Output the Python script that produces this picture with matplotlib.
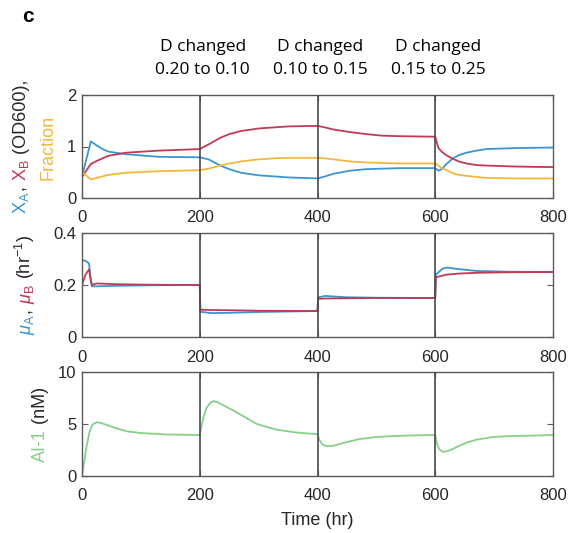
import matplotlib
matplotlib.use("Agg")
import matplotlib.pyplot as plt

# ---- data ----
t_top = [0, 15, 25, 35, 45, 75, 130, 200, 215, 235, 250, 270, 300, 325, 350, 400,
         413, 427, 455, 483, 511, 540, 600, 603, 606, 612, 619, 630, 640, 653, 670,
         687, 738, 800]
xA = [0.42, 1.10, 1.02, 0.95, 0.90, 0.85, 0.80, 0.79, 0.75, 0.63, 0.56, 0.49, 0.44,
      0.42, 0.40, 0.38, 0.42, 0.47, 0.53, 0.56, 0.57, 0.58, 0.58, 0.55, 0.53, 0.57,
      0.66, 0.77, 0.83, 0.88, 0.92, 0.95, 0.97, 0.98]
xB = [0.41, 0.66, 0.72, 0.77, 0.82, 0.88, 0.92, 0.95, 1.04, 1.17, 1.24, 1.30, 1.35,
      1.37, 1.39, 1.40, 1.37, 1.33, 1.28, 1.24, 1.21, 1.20, 1.19, 1.06, 0.96, 0.89,
      0.83, 0.76, 0.71, 0.67, 0.64, 0.63, 0.61, 0.60]
frac = [0.51, 0.36, 0.39, 0.42, 0.45, 0.49, 0.52, 0.54, 0.57, 0.63, 0.67, 0.71, 0.75,
        0.77, 0.78, 0.78, 0.77, 0.75, 0.71, 0.69, 0.68, 0.67, 0.67, 0.65, 0.62, 0.58,
        0.54, 0.48, 0.45, 0.43, 0.41, 0.39, 0.38, 0.38]

t_mid = [0, 6, 12, 15, 17, 25, 60, 120, 200, 201, 220, 250, 300, 400, 401, 413, 447,
         500, 600, 601, 612, 620, 640, 671, 728, 800]
muA = [0.296, 0.293, 0.283, 0.21, 0.195, 0.195, 0.197, 0.199, 0.2, 0.097, 0.092, 0.093,
       0.096, 0.1, 0.152, 0.158, 0.153, 0.151, 0.15, 0.24, 0.262, 0.267, 0.261, 0.254,
       0.251, 0.25]
muB = [0.2, 0.24, 0.26, 0.22, 0.2, 0.206, 0.203, 0.201, 0.2, 0.105, 0.104, 0.103,
       0.101, 0.1, 0.147, 0.148, 0.149, 0.15, 0.15, 0.23, 0.236, 0.24, 0.244, 0.247,
       0.249, 0.25]

t_bot = [0, 4, 8, 13, 18, 25, 32, 40, 50, 60, 76, 100, 140, 200, 203, 207, 212, 218,
         223, 230, 240, 257, 280, 297, 315, 331, 359, 380, 400, 403, 408, 413, 418,
         428, 445, 472, 500, 529, 560, 600, 603, 607, 613, 620, 630, 641, 655, 670,
         698, 730, 755, 800]
ai1 = [0.0, 1.5, 2.9, 4.3, 4.95, 5.17, 5.1, 4.95, 4.75, 4.55, 4.3, 4.13, 4.0, 3.94,
       4.8, 5.8, 6.6, 7.05, 7.2, 7.1, 6.8, 6.3, 5.55, 5.0, 4.7, 4.45, 4.22, 4.1, 4.03,
       3.5, 3.05, 2.9, 2.86, 2.92, 3.2, 3.56, 3.75, 3.84, 3.9, 3.94, 3.1, 2.55, 2.32,
       2.38, 2.6, 2.92, 3.25, 3.49, 3.75, 3.85, 3.87, 3.94]

changes = [200, 400, 600]
change_txt = ["0.20 to 0.10", "0.10 to 0.15", "0.15 to 0.25"]

blue = "#3a95d3"
red = "#c03a55"
yellow = "#f4b73c"
green = "#88cf88"
dark = "#262626"
axcol = "#5a5a5a"

plt.rcParams["font.family"] = ["Liberation Sans", "DejaVu Sans"]
plt.rcParams["mathtext.fontset"] = "custom"
plt.rcParams["mathtext.rm"] = "Liberation Sans"
plt.rcParams["mathtext.it"] = "Liberation Sans:italic"

W, H = 571, 533
fig = plt.figure(figsize=(W / 100, H / 100), dpi=100)


def box(top, bottom):
    return [82 / W, 1 - bottom / H, (553 - 82) / W, (bottom - top) / H]


ax1 = fig.add_axes(box(95, 198))
ax2 = fig.add_axes(box(233, 337))
ax3 = fig.add_axes(box(372, 476))

ax1.plot(t_top, xA, color=blue, lw=1.3)
ax1.plot(t_top, xB, color=red, lw=1.3)
ax1.plot(t_top, frac, color=yellow, lw=1.3)
ax2.plot(t_mid, muA, color=blue, lw=1.3)
ax2.plot(t_mid, muB, color=red, lw=1.3)
ax3.plot(t_bot, ai1, color=green, lw=1.3)

lims = [(0, 2, [0, 1, 2], ["0", "1", "2"]),
        (0, 0.4, [0, 0.2, 0.4], ["0", "0.2", "0.4"]),
        (0, 10, [0, 5, 10], ["0", "5", "10"])]
for ax, (lo, hi, yt, yl) in zip([ax1, ax2, ax3], lims):
    ax.set_xlim(0, 800)
    ax.set_ylim(lo, hi)
    ax.set_xticks([0, 200, 400, 600, 800])
    ax.set_yticks(yt)
    ax.set_yticklabels(yl)
    for c in changes:
        ax.axvline(c, color="#4a4a4a", lw=1.2, zorder=3)
    for s in ax.spines.values():
        s.set_color(axcol)
        s.set_linewidth(1.0)
    ax.tick_params(direction="in", top=True, right=True, length=4, width=0.8,
                   color=axcol, labelsize=12, labelcolor=dark)
    ax.tick_params(axis="x", pad=9)
    ax.tick_params(axis="y", pad=4)

ax3.set_xlabel("Time (hr)", fontsize=13, color=dark, labelpad=6)

# annotations above the top panel
for c, s in zip(changes, change_txt):
    xp = 82 + c * (553 - 82) / 800 + 3
    fig.text(xp / W, 1 - 47 / H, "D changed", ha="center", va="center",
             fontsize=12.5, family="Open Sans", color="black")
    fig.text(xp / W, 1 - 70 / H, s, ha="center", va="center",
             fontsize=12.5, family="Open Sans", color="black")

fig.text(22 / W, 1 - 16 / H, "c", fontsize=15, fontweight="bold", va="center")

# multicoloured rotated y labels
fig.canvas.draw()
renderer = fig.canvas.get_renderer()


def vlabel(xb, yc, parts, size):
    texts = []
    for s, c in parts:
        t = fig.text(0, 0, s, color=c, fontsize=size, rotation=90,
                     rotation_mode="anchor", ha="left", va="baseline")
        texts.append(t)
    lens = [t.get_window_extent(renderer).height for t in texts]
    y = (H - yc) - sum(lens) / 2
    for t, L in zip(texts, lens):
        t.set_position((xb / W, y / H))
        y += L


vlabel(26, 147, [(r"$\mathrm{X_A}$", blue), (", ", dark), (r"$\mathrm{X_B}$", red),
                 (" (OD600),", dark)], 13)
vlabel(52, 147, [("Fraction", yellow)], 13)
vlabel(31, 285, [(r"$\mu_{\mathrm{A}}$", blue), (", ", dark), (r"$\mu_{\mathrm{B}}$", red),
                 (r" (hr$^{-1}$)", dark)], 13)
vlabel(45, 424, [("AI-1", green), (" (nM)", dark)], 13)

fig.savefig("out.png", dpi=100)
